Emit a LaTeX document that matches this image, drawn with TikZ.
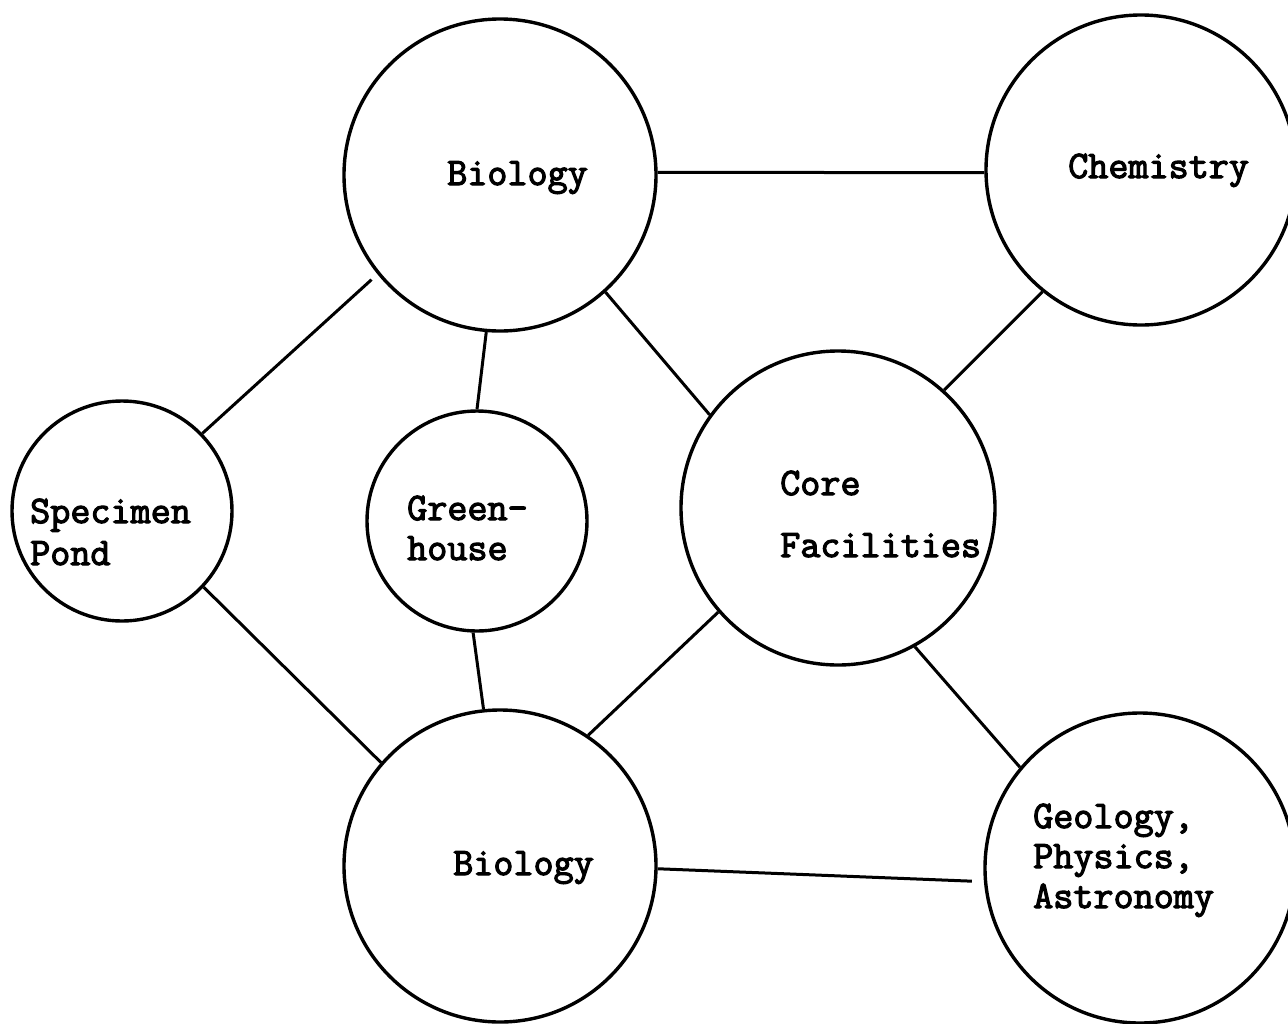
\documentclass[tikz,border=0pt]{standalone}
\usepackage{fontspec}
\newfontfamily\typewriter{Latin Modern Mono}[FakeBold=3]
\begin{document}
\begin{tikzpicture}[x=1pt,y=-1pt,
  unit/.style={circle,draw,line width=3.4pt,inner sep=0pt,minimum size=#1},
  lbl/.style={anchor=base west,inner sep=0pt,font=\fontsize{39}{40}\typewriter},
  link/.style={line width=3pt}]
\useasboundingbox (0,0) rectangle (1288,1023);
% departments
\node[unit=312pt] (bioA) at (500,175) {};
\node[unit=310pt] (chem) at (1141,170) {};
\node[unit=220pt] (pond) at (122,511) {};
\node[unit=220pt] (green) at (477,521) {};
\node[unit=314pt] (core) at (838,508) {};
\node[unit=312pt] (bioB) at (500,866) {};
\node[unit=310pt] (geo) at (1140,868) {};
% names
\node[lbl] (tBioA) at (447,185) {Biology};
\node[lbl] (tChem) at (1068,178) {Chemistry};
\node[lbl] (tPond1) at (30,523) {Specimen};
\node[lbl] (tPond2) at (30,565) {Pond};
\node[lbl] (tGreen1) at (407,520) {Green-};
\node[lbl] (tGreen2) at (407,560) {house};
\node[lbl] (tCore1) at (780,495) {Core};
\node[lbl] (tCore2) at (780,557) {Facilities};
\node[lbl] (tBioB) at (453,875) {Biology};
\node[lbl] (tGeo1) at (1033,828) {Geology,};
\node[lbl] (tGeo2) at (1033,868) {Physics,};
\node[lbl] (tGeo3) at (1033,908) {Astronomy};
% connections
\draw[link] (bioA.1) -- (chem.181);
\draw[link] (bioA.-48) -- (core.144);
\draw[link] (chem.-129) -- (core.48);
\draw[link,shorten >=8pt] (pond.44) -- (bioA.219);
\draw[link] (pond.-43) -- (bioB.139);
\draw[link] (green.90) -- (bioA.265);
\draw[link] (green.268) -- (bioB.96);
\draw[link] (core.221) -- (bioB.56);
\draw[link] (core.299) -- (geo.140);
\draw[link,shorten >=12pt] (bioB.-1) -- (geo.185);
\end{tikzpicture}
\end{document}
